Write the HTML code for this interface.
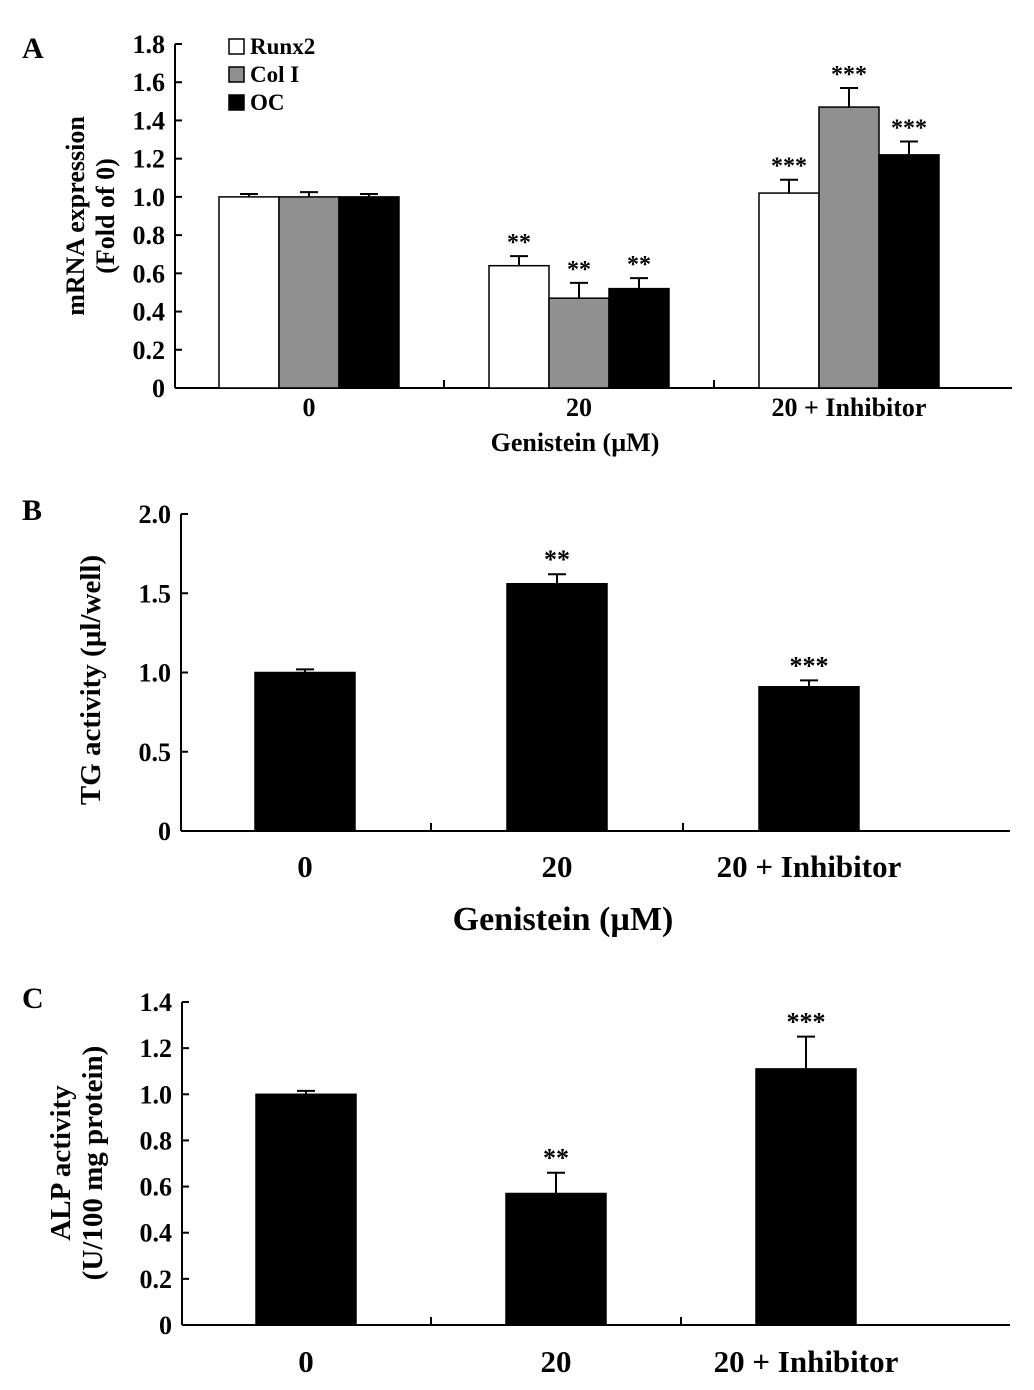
<!DOCTYPE html>
<html><head><meta charset="utf-8"><style>
body{margin:0;background:#fff}
svg text{font-family:"Liberation Serif",serif;font-weight:bold;fill:#000}
</style></head><body>
<svg id="chart" width="1034" height="1385" viewBox="0 0 1034 1385" xmlns="http://www.w3.org/2000/svg">
<text x="22" y="58" font-size="30">A</text>
<text x="22" y="520" font-size="30">B</text>
<text x="22" y="1008" font-size="30">C</text>
</svg>
<script>
const categories = ["0", "20", "20 + Inhibitor"];
const seriesA = ["Runx2", "Col I", "OC"];
const runx2Vals = [1.0, 0.64, 1.02];
const runx2Err = [0.015, 0.05, 0.07];
const colIVals = [1.0, 0.47, 1.47];
const colIErr = [0.025, 0.08, 0.1];
const ocVals = [1.0, 0.52, 1.22];
const ocErr = [0.015, 0.055, 0.07];
const starsA = [["","",""],["**","**","**"],["***","***","***"]];
const ticksA = [0,0.2,0.4,0.6,0.8,1.0,1.2,1.4,1.6,1.8];
const tgVals = [1.0, 1.56, 0.91];
const tgErr = [0.02, 0.06, 0.04];
const starsB = ["", "**", "***"];
const ticksB = [0,0.5,1.0,1.5,2.0];
const alpVals = [1.0, 0.57, 1.11];
const alpErr = [0.015, 0.09, 0.14];
const starsC = ["", "**", "***"];
const ticksC = [0,0.2,0.4,0.6,0.8,1.0,1.2,1.4];

const svg = document.getElementById('chart');
const NS = "http://www.w3.org/2000/svg";
function mk(tag, attrs, parent){const e=document.createElementNS(NS,tag);for(const k in attrs)e.setAttribute(k,attrs[k]);(parent||svg).appendChild(e);return e;}
function txt(x,y,s,size,anchor,parent){const t=mk('text',{x:x,y:y,'font-size':size,'text-anchor':anchor||'middle'},parent);t.textContent=s;return t;}

function axes(p){
  const g=mk('g',{});
  
  
  const y=v=>p.y0-(v/p.ymax)*(p.y0-p.ytop);
  const cx=i=>p.x0+p.first+p.gw*i;
  mk('line',{x1:p.x0,y1:p.ytop,x2:p.x0,y2:p.y0,stroke:'#000','stroke-width':2},g);
  mk('line',{x1:p.x0,y1:p.y0,x2:p.x1,y2:p.y0,stroke:'#000','stroke-width':2},g);
  p.ticks.forEach(v=>{
    mk('line',{x1:p.x0,y1:y(v),x2:p.x0+7,y2:y(v),stroke:'#000','stroke-width':2},g);
    const t=txt(p.x0-10,y(v)+9,v===0?'0':v.toFixed(1),p.tsize,'end',g);
    
    
  });
  [0,1].forEach(i=>{const xx=cx(i)+p.gw/2;mk('line',{x1:xx,y1:p.y0,x2:xx,y2:p.y0-8,stroke:'#000','stroke-width':2},g);});
  categories.forEach((c,i)=>{
    const t=txt(cx(i),p.catY,c,p.csize,'middle',g);
    
    
  });
  return {y:y,cx:cx,g:g};
}
function bar(g,x,w,v,e,fill,y,star,ssize){
  const r=mk('rect',{x:x,y:y(v),width:w,height:y(0)-y(v),fill:fill,stroke:'#000','stroke-width':1.5},g);
  
  
  const cx=x+w/2;
  mk('line',{x1:cx,y1:y(v),x2:cx,y2:y(v+e),stroke:'#000','stroke-width':2},g);
  mk('line',{x1:cx-9,y1:y(v+e),x2:cx+9,y2:y(v+e),stroke:'#000','stroke-width':2},g);
  if(star){const t=txt(cx,y(v+e)-6,star,ssize,'middle',g);
    
    }
}

// Panel A
const pA={name:'panel-a',x0:175,x1:1012,ytop:44,y0:388,ymax:1.8,ticks:ticksA,tsize:26,csize:26,catY:416,first:134,gw:270};
const A=axes(pA);
const valsA=[runx2Vals,colIVals,ocVals], errA=[runx2Err,colIErr,ocErr], fillA=['#fff','#909090','#000'];
categories.forEach((c,i)=>{
  const start=A.cx(i)-90;
  for(let s=0;s<3;s++) bar(A.g,start+s*60,60,valsA[s][i],errA[s][i],fillA[s],A.y,starsA[i][s],24);
});
seriesA.forEach((s,i)=>{
  const lg=mk('g',{});
  
  
  mk('rect',{x:229,y:39+i*28,width:15,height:15,fill:fillA[i],stroke:'#000','stroke-width':1.5},lg);
  txt(250,54+i*28,s,23,'start',lg);
});
let t=txt(575,451,'Genistein (\u00b5M)',26);

t=mk('text',{x:0,y:0,'font-size':26,'text-anchor':'middle',transform:'translate(84,216) rotate(-90)'});

mk('tspan',{x:0,dy:0},t).textContent='mRNA expression';
mk('tspan',{x:0,dy:30},t).textContent='(Fold of 0)';

// Panel B
const pB={name:'panel-b',x0:181,x1:1010,ytop:514,y0:831,ymax:2.0,ticks:ticksB,tsize:26,csize:31,catY:877,first:124,gw:252};
const B=axes(pB);
categories.forEach((c,i)=>bar(B.g,B.cx(i)-50,100,tgVals[i],tgErr[i],'#000',B.y,starsB[i],26));
t=txt(563,930,'Genistein (\u00b5M)',34);

t=mk('text',{x:0,y:0,'font-size':29,'text-anchor':'middle',transform:'translate(100,680) rotate(-90)'});
t.textContent='TG activity (\u00b5l/well)';


// Panel C
const pC={name:'panel-c',x0:182,x1:1010,ytop:1002,y0:1325,ymax:1.4,ticks:ticksC,tsize:26,csize:31,catY:1372,first:124,gw:250};
const C=axes(pC);
categories.forEach((c,i)=>bar(C.g,C.cx(i)-50,100,alpVals[i],alpErr[i],'#000',C.y,starsC[i],26));
t=mk('text',{x:0,y:0,'font-size':29,'text-anchor':'middle',transform:'translate(70,1163) rotate(-90)'});

mk('tspan',{x:0,dy:0},t).textContent='ALP activity';
mk('tspan',{x:0,dy:32},t).textContent='(U/100 mg protein)';
</script>
</body></html>
